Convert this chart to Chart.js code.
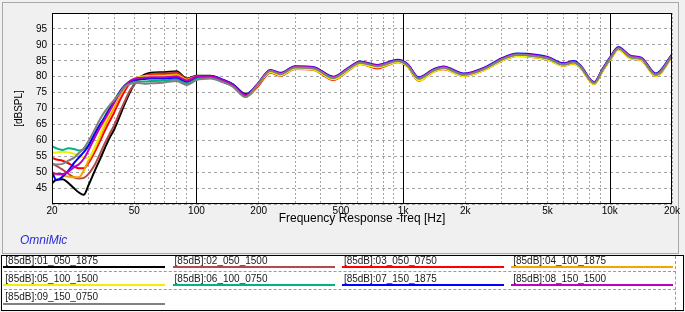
<!DOCTYPE html>
<html>
<head>
<meta charset="utf-8">
<script src="https://cdn.jsdelivr.net/npm/chart.js@4.4.0/dist/chart.umd.min.js"></script>
<style>
  body { margin: 0; width: 685px; height: 312px; background: #f0f0f0; position: relative; overflow: hidden; font-family: "Liberation Sans", Arial, sans-serif; }
  #panel { position: absolute; left: 2px; top: 2px; width: 675px; height: 250px; border: 1px solid #a8a8a8; background: #f0f0f0; }
  #fr { position: absolute; left: 0; top: 0; }
  #omni { position: absolute; left: 20px; top: 233px; font-size: 12px; font-style: italic; color: #2b2bd9; }
  #legend { position: absolute; left: 1px; top: 255px; width: 681px; height: 54px; border: 1px solid #000; background: #fff; }
  .sep { position: absolute; left: 2px; width: 672px; height: 0; border-top: 1px dashed #9a9a9a; }
  .vsep { position: absolute; left: 673px; top: 0; height: 54px; width: 0; border-left: 1px dashed #9a9a9a; }
  .item { position: absolute; width: 162px; }
  .item .txt { font-size: 10px; line-height: 12px; height: 12px; padding-left: 2px; color: #1a1a1a; white-space: nowrap; }
  .item .ln { position: absolute; left: 0; top: 11.3px; width: 162px; height: 2px; }
</style>
</head>
<body>
<div id="panel"></div>
<canvas id="fr" width="685" height="253"></canvas>
<div id="omni">OmniMic</div>
<div id="legend"></div>
<script>
// frequency points (Hz)
const freqs = [20, 21, 22.5, 24, 25.5, 27, 28.5, 30, 32, 34, 36, 38, 40, 42.5, 45, 48, 52, 56, 60, 70, 80, 90,
  100, 117, 135, 150, 173, 196, 228, 255, 300, 370, 460, 540, 620, 750, 940, 1050, 1190, 1400, 1570, 1960,
  2500, 3000, 3560, 3940, 5000, 5970, 6680, 7200, 8400, 9200, 10070, 11000, 12600, 14200, 16700, 20000];

// levels in dBSPL, one array per measurement
const s01 = [46.5, 47.6, 47.8, 46.6, 45.0, 43.6, 42.9, 45.8, 50.0, 53.8, 57.5, 60.8, 63.4, 67.5, 71.5, 75.5, 79.3, 80.6, 81.2, 81.4, 81.7, 79.4,
  80.3, 80.3, 78.9, 77.6, 74.5, 77.0, 81.6, 80.9, 83.0, 82.8, 79.8, 82.4, 84.5, 83.5, 85.0, 83.7, 79.6, 82.0, 82.9, 80.7,
  82.7, 85.5, 87.0, 86.9, 85.9, 83.9, 84.6, 83.3, 78.1, 82.1, 85.9, 89.0, 86.3, 85.7, 80.7, 86.6];
const s02 = [52.8, 52.0, 50.8, 49.5, 48.4, 48.0, 48.2, 49.4, 52.0, 55.5, 59.0, 62.0, 64.8, 68.8, 72.3, 76.0, 78.6, 80.2, 80.8, 81.0, 81.3, 79.2,
  80.1, 80.1, 78.7, 77.3, 74.2, 76.8, 81.4, 80.7, 82.8, 82.5, 79.5, 82.2, 84.3, 83.2, 84.8, 83.5, 79.3, 81.8, 82.7, 80.5,
  82.5, 85.3, 86.8, 86.7, 85.7, 83.7, 84.4, 83.1, 77.9, 81.9, 85.7, 88.8, 86.1, 85.5, 80.5, 86.4];
const s03 = [54.5, 54.0, 53.6, 52.8, 51.8, 51.2, 51.2, 52.8, 56.0, 59.5, 63.0, 66.0, 68.8, 72.5, 75.5, 78.2, 79.6, 80.2, 80.5, 80.7, 81.0, 79.2,
  79.9, 79.9, 78.4, 77.0, 73.6, 76.6, 81.2, 80.3, 82.4, 82.1, 78.9, 81.8, 84.0, 82.6, 84.5, 83.2, 78.7, 81.5, 82.3, 80.2,
  82.2, 85.0, 86.5, 86.4, 85.4, 83.4, 84.1, 82.8, 77.7, 81.6, 85.4, 88.5, 85.8, 85.2, 80.2, 86.1];
const s04 = [49.6, 49.3, 49.0, 48.6, 48.4, 48.4, 50.5, 53.5, 57.0, 60.8, 64.5, 67.5, 70.3, 74.0, 76.5, 78.5, 79.8, 80.2, 80.3, 80.4, 80.7, 79.0,
  80.0, 80.0, 78.5, 77.1, 73.8, 76.9, 81.5, 80.6, 82.7, 82.4, 79.3, 82.1, 84.2, 83.0, 84.7, 83.4, 79.1, 81.7, 82.6, 80.4,
  82.4, 85.2, 86.7, 86.6, 85.6, 83.6, 84.3, 83.0, 77.9, 81.8, 85.6, 88.7, 86.0, 85.4, 80.4, 86.3];
const s05 = [56.0, 56.2, 56.4, 56.2, 55.8, 55.4, 54.6, 54.4, 57.5, 61.5, 65.5, 68.8, 71.5, 74.8, 77.2, 78.8, 79.7, 80.0, 80.1, 80.1, 80.3, 78.9,
  79.8, 79.8, 78.4, 77.0, 73.6, 77.2, 81.4, 80.4, 82.5, 82.2, 79.1, 81.9, 84.0, 82.9, 84.5, 83.3, 78.8, 81.5, 82.4, 80.2,
  82.2, 85.0, 86.5, 86.4, 85.4, 83.4, 84.1, 82.8, 77.7, 81.6, 85.4, 88.5, 85.8, 85.2, 80.2, 86.1];
const s06 = [58.2, 57.5, 57.0, 57.5, 57.3, 56.8, 57.2, 58.5, 61.5, 64.5, 67.5, 70.2, 72.5, 75.2, 77.0, 78.2, 78.5, 78.5, 78.6, 78.8, 79.2, 77.9,
  79.3, 79.6, 78.3, 77.0, 73.8, 77.4, 81.9, 80.9, 83.0, 82.7, 79.6, 82.4, 84.5, 83.4, 85.0, 83.6, 79.4, 82.0, 82.9, 80.7,
  82.7, 85.4, 86.9, 86.8, 85.8, 83.8, 84.5, 83.2, 78.0, 82.0, 85.8, 88.9, 86.2, 85.6, 80.6, 86.5];
const s07 = [50.2, 47.5, 48.6, 50.5, 52.8, 54.6, 56.3, 58.2, 61.8, 64.8, 67.2, 69.8, 72.2, 75.2, 77.2, 78.6, 79.2, 79.3, 79.4, 79.4, 79.7, 78.5,
  79.9, 80.2, 79.0, 77.6, 74.4, 77.4, 82.1, 81.2, 83.3, 83.0, 80.0, 82.7, 84.8, 83.7, 85.3, 84.0, 79.8, 82.3, 83.2, 81.0,
  83.0, 85.8, 87.3, 87.2, 86.2, 84.2, 84.9, 83.6, 78.3, 82.3, 86.2, 89.3, 86.6, 86.0, 81.0, 86.9];
const s08 = [49.8, 49.5, 49.4, 50.2, 51.5, 52.5, 54.2, 56.8, 60.5, 63.8, 66.6, 69.3, 71.8, 74.8, 77.0, 78.8, 79.6, 79.7, 79.8, 79.8, 80.1, 78.8,
  80.0, 80.1, 78.8, 77.4, 74.2, 77.3, 82.0, 81.0, 83.1, 82.8, 79.8, 82.5, 84.6, 83.5, 85.1, 83.8, 79.6, 82.1, 83.0, 80.8,
  82.8, 85.6, 87.1, 87.0, 86.0, 84.0, 84.7, 83.4, 78.2, 82.2, 86.0, 89.1, 86.4, 85.8, 80.8, 86.7];
const s09 = [52.5, 52.4, 52.6, 53.6, 54.5, 56.0, 57.5, 59.7, 63.0, 66.4, 69.0, 71.0, 72.7, 74.8, 76.8, 77.8, 78.0, 77.8, 77.9, 78.2, 78.6, 77.4,
  78.9, 79.4, 78.2, 76.9, 73.6, 77.2, 81.8, 80.8, 82.9, 82.6, 79.6, 82.3, 84.4, 83.3, 84.9, 83.6, 79.4, 81.9, 82.8, 80.6,
  82.6, 85.4, 86.9, 86.8, 85.8, 83.8, 84.5, 83.2, 78.0, 82.0, 85.8, 88.9, 86.2, 85.6, 80.6, 86.5];

const names = ['[85dB]:01_050_1875', '[85dB]:02_050_1500', '[85dB]:03_050_0750', '[85dB]:04_100_1875',
  '[85dB]:05_100_1500', '[85dB]:06_100_0750', '[85dB]:07_150_1875', '[85dB]:08_150_1500', '[85dB]:09_150_0750'];
const colors = ['#000000', '#b5484a', '#ff0000', '#f5a300', '#f0f000', '#00b380', '#0000ff', '#c000c0', '#808080'];
const series = [s01, s02, s03, s04, s05, s06, s07, s08, s09];

// axis ticks
const yLabels = [45, 50, 55, 60, 65, 70, 75, 80, 85, 90, 95];
const xTickVals = [20, 50, 100, 200, 500, 1000, 2000, 5000, 10000, 20000];
const xTickText = ['20', '50', '100', '200', '500', '1k', '2k', '5k', '10k', '20k'];
const xGrid = [20, 30, 40, 50, 60, 70, 80, 90, 100, 200, 300, 400, 500, 600, 700, 800, 900,
  1000, 2000, 3000, 4000, 5000, 6000, 7000, 8000, 9000, 10000, 20000];
const decades = [100, 1000, 10000];

Chart.defaults.font.family = '"Liberation Sans", Arial, sans-serif';
Chart.defaults.color = '#000';

// white plot area, solid decade lines, black frame
const frame = {
    id: 'frame',
    beforeDraw(chart) {
        const a = chart.chartArea, c = chart.ctx;
        c.save();
        c.fillStyle = '#fff';
        c.fillRect(a.left, a.top, a.right - a.left, a.bottom - a.top);
        c.restore();
    },
    beforeDatasetsDraw(chart) {
        const a = chart.chartArea, c = chart.ctx, sx = chart.scales.x;
        c.save();
        c.strokeStyle = '#000';
        c.lineWidth = 1;
        c.beginPath();
        decades.forEach(v => {
            const px = Math.round(sx.getPixelForValue(v)) + 0.5;
            c.moveTo(px, a.top);
            c.lineTo(px, a.bottom);
        });
        c.stroke();
        c.restore();
    },
    afterDraw(chart) {
        const a = chart.chartArea, c = chart.ctx;
        c.save();
        c.strokeStyle = '#000';
        c.lineWidth = 1;
        c.strokeRect(a.left + 0.5, a.top + 0.5, a.right - a.left - 1, a.bottom - a.top - 1);
        c.restore();
    }
};

const ctx = document.getElementById('fr').getContext('2d');
new Chart(ctx, {
    type: 'line',
    data: {
        datasets: series.map((vals, i) => ({
            label: names[i],
            data: freqs.map((f, j) => ({ x: f, y: vals[j] })),
            borderColor: colors[i],
            borderWidth: 2,
            pointRadius: 0,
            fill: false,
            cubicInterpolationMode: 'monotone',
            order: series.length - i
        }))
    },
    options: {
        responsive: false,
        devicePixelRatio: 1,
        animation: false,
        events: [],
        layout: { padding: { left: 9, top: 13, right: 13, bottom: 23 } },
        plugins: { legend: { display: false }, tooltip: { enabled: false } },
        scales: {
            x: {
                type: 'logarithmic',
                min: 20,
                max: 20000,
                afterBuildTicks: (s) => { s.ticks = xGrid.map(v => ({ value: v })); },
                afterFit: (s) => { s.height = 26; },
                ticks: {
                    autoSkip: false, maxRotation: 0, minRotation: 0, padding: 1,
                    font: { size: 10 },
                    callback: (v) => {
                        const k = xTickVals.indexOf(v);
                        return k < 0 ? '' : xTickText[k];
                    }
                },
                grid: {
                    drawTicks: false,
                    color: (c) => (c.tick && decades.includes(c.tick.value)) ? 'rgba(0,0,0,0)' : '#a4a4a4'
                },
                border: { display: false, dash: [2, 2] },
                title: { display: true, text: 'Frequency Response -freq [Hz]', font: { size: 12 }, padding: { top: 4, bottom: 4 } }
            },
            y: {
                min: 40,
                max: 100,
                afterFit: (s) => { s.width = 43; },
                ticks: {
                    stepSize: 5, padding: 5,
                    font: { size: 10 },
                    callback: (v) => yLabels.includes(v) ? String(v) : ''
                },
                grid: { drawTicks: false, color: '#a4a4a4' },
                border: { display: false, dash: [3, 3] },
                title: { display: true, text: '[dBSPL]', font: { size: 10 }, padding: { top: 4, bottom: 4 } }
            }
        }
    },
    plugins: [frame]
});

// legend below the chart
const legend = document.getElementById('legend');
[14.7, 33.3].forEach(y => {
    const d = document.createElement('div');
    d.className = 'sep';
    d.style.top = y + 'px';
    legend.appendChild(d);
});
const vs = document.createElement('div');
vs.className = 'vsep';
legend.appendChild(vs);
names.forEach((name, i) => {
    const row = Math.floor(i / 4), col = i % 4;
    const item = document.createElement('div');
    item.className = 'item';
    item.style.left = (1.3 + col * 169.3) + 'px';
    item.style.top = (-1.3 + row * 18.3) + 'px';
    item.innerHTML = '<div class="txt"></div><div class="ln"></div>';
    item.querySelector('.txt').textContent = name;
    item.querySelector('.ln').style.background = colors[i];
    legend.appendChild(item);
});
</script>
</body>
</html>
